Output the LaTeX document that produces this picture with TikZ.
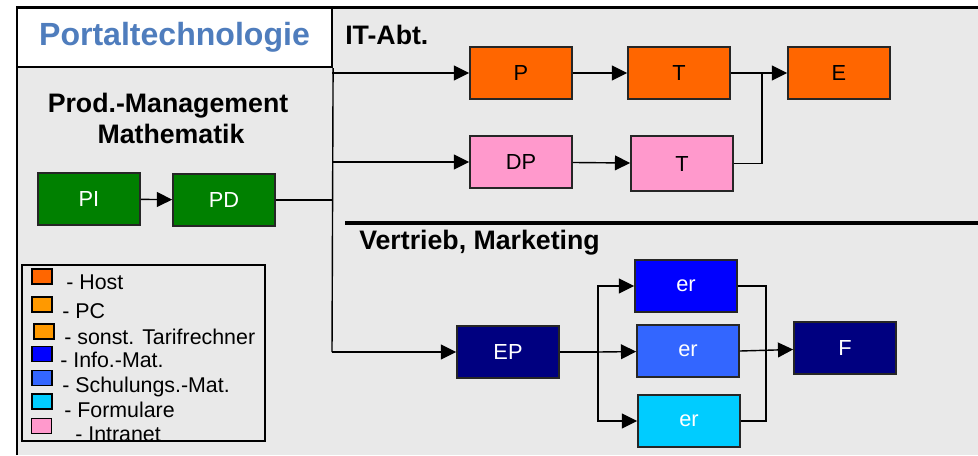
\documentclass[tikz,border=0pt]{standalone}
\usepackage{fontspec}
\setmainfont{Liberation Sans}
\usetikzlibrary{positioning, arrows.meta, calc}
\definecolor{PanelGray}{RGB}{233,233,233}
\definecolor{TitleBlue}{RGB}{79,125,189}
\definecolor{HostOrange}{RGB}{255,102,0}
\definecolor{PcOrange}{RGB}{255,153,0}
\definecolor{IntraPink}{RGB}{255,153,204}
\definecolor{InfoBlue}{RGB}{0,0,255}
\definecolor{CourseBlue}{RGB}{51,102,255}
\definecolor{FormCyan}{RGB}{0,204,255}
\definecolor{ProdGreen}{RGB}{0,128,0}
\definecolor{SalesNavy}{RGB}{0,0,128}

\begin{document}
\begin{tikzpicture}[x=0.025cm, y=-0.025cm, font=\fontsize{15.5}{18}\selectfont]
    \tikzset{
        box/.style={rectangle, draw=black!85, line width=1.2pt,
            minimum width=2.55cm, minimum height=1.3cm, inner sep=0pt},
        hostbox/.style={box, fill=HostOrange},
        intrabox/.style={box, fill=IntraPink},
        prodbox/.style={box, fill=ProdGreen, text=white},
        navybox/.style={box, fill=SalesNavy, text=white},
        infobox/.style={box, fill=InfoBlue, text=white},
        coursebox/.style={box, fill=CourseBlue, text=white},
        formbox/.style={box, fill=FormCyan, text=white},
        link/.style={line width=1pt},
        stream/.style={line width=1pt, -{Triangle[length=0.38cm, width=0.37cm]}},
        heading/.style={font=\fontsize{19}{23}\selectfont\bfseries, inner sep=0pt},
        keybox/.style={rectangle, draw=black, line width=1pt,
            minimum width=0.5cm, minimum height=0.38cm, inner sep=0pt},
        keytext/.style={anchor=base west, inner sep=0pt,
            font=\fontsize{15.2}{17}\selectfont}
    }
    \useasboundingbox (0,0) rectangle (978,455);
    % panel and frame
    \fill[PanelGray] (17,8) rectangle (978,455);
    \draw[line width=1.8pt] (17,455) -- (17,7.5) -- (978,7.5);
    \node[draw, fill=white, line width=1.5pt, minimum width=7.875cm,
        minimum height=1.475cm, inner sep=0pt,
        font=\fontsize{22.8}{26}\selectfont\bfseries, text=TitleBlue]
        (title) at (174.5,37.5) {Portaltechnologie};
    \draw[line width=2.8pt] (345,223) -- (978,223);

    % headings
    \node[heading, anchor=base west] (ithead) at (345,44) {IT-Abt.};
    \node[heading, anchor=base] (prodhead) at (168,112) {Prod.-Management};
    \node[heading, anchor=base] (mathhead) at (171,143) {Mathematik};
    \node[heading, anchor=base west] (saleshead) at (359,249) {Vertrieb, Marketing};

    % process boxes
    \node[prodbox] (pi) at (89,199) {PI};
    \node[prodbox] (pd) at (224,200) {\raisebox{-0.12em}{PD}};
    \node[hostbox] (p) at (521,73) {P};
    \node[hostbox] (t1) at (679,73) {T};
    \node[hostbox] (e) at (839,73) {E};
    \node[intrabox] (dp) at (521,162) {DP};
    \node[intrabox, minimum height=1.37cm] (t2) at (682,163.5) {T};
    \node[navybox] (ep) at (508,352) {EP};
    \node[infobox] (er1) at (686,286) {er};
    \node[coursebox] (er2) at (688,351) {er};
    \node[formbox] (er3) at (689,421) {er};
    \node[navybox] (f) at (845,348) {F};

    % branch points
    \coordinate (trunk) at (332,352);
    \coordinate (join) at (762,73);
    \coordinate (fork) at (598,352);
    \coordinate (merge) at (766,349);

    % connectors
    \draw[stream] (pi) -- (pd);
    \draw[link] (title.south east) -- (trunk);
    \draw[link] (pd.east) -- (pd.east -| trunk);
    \draw[stream] (p.west -| trunk) -- (p);
    \draw[stream] (dp.west -| trunk) -- (dp);
    \draw[stream] (trunk) -- (ep);
    \draw[stream] (p) -- (t1);
    \draw[stream] (dp) -- (t2);
    \draw[stream] (t1) -- (e);
    \draw[link] (t2.east) -| (join);
    \draw[link] (ep) -- (fork);
    \draw[stream] (fork) |- (er1);
    \draw[stream] (fork) -- (er2);
    \draw[stream] (fork) |- (er3);
    \draw[link] (er1.east) -| (merge);
    \draw[link] (er3.east) -| (merge);
    \draw[stream] (er2.east) -- (f);

    % legend
    \coordinate (legendnw) at (22,265);
    \coordinate (legendse) at (265,441);
    \begin{scope}
        \clip (legendnw) rectangle (legendse);
        \node[keybox, fill=HostOrange] (khost) at (42,276.5) {};
        \node[keybox, fill=PcOrange] (kpc) at (42,304.5) {};
        \node[keybox, fill=PcOrange] (ktarif) at (44,331.5) {};
        \node[keybox, fill=InfoBlue] (kinfo) at (42,354) {};
        \node[keybox, fill=CourseBlue] (kcourse) at (42,378) {};
        \node[keybox, fill=FormCyan] (kform) at (42,401.5) {};
        \node[keybox, fill=IntraPink] (kintra) at (41.5,426) {};
        \node[keytext] at (66,289) {- Host};
        \node[keytext] at (62,318) {- PC};
        \node[keytext] at (64,344) {- sonst. Tarifrechner};
        \node[keytext] at (60,367) {- Info.-Mat.};
        \node[keytext] at (62,392) {- Schulungs.-Mat.};
        \node[keytext] at (64,417) {- Formulare};
        \node[keytext] at (75,441) {- Intranet};
    \end{scope}
    \draw[line width=1.2pt] (legendnw) rectangle (legendse);
\end{tikzpicture}
\end{document}
